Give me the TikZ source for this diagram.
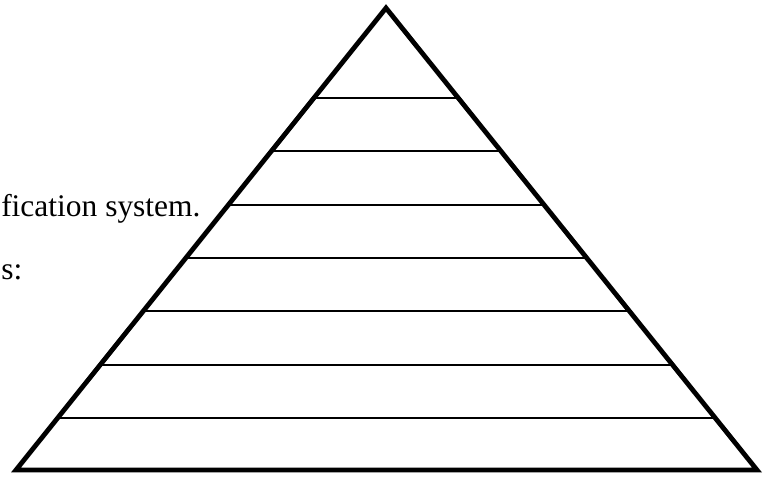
\documentclass[tikz,border=0pt]{standalone}
\usepackage{fontspec}
\setmainfont{Liberation Serif}
\usetikzlibrary{calc}

\begin{document}
\begin{tikzpicture}[x=0.75pt,y=-0.75pt,
    txt/.style={inner sep=0pt,font=\fontsize{23.6}{28}\selectfont},
    edgeline/.style={black,line width=3.6pt,line join=miter},
    rung/.style={black,line width=1.6pt}]
    \useasboundingbox (0,0) rectangle (775,477);

    \coordinate (top) at (386,8);
    \coordinate (bl) at (16,470);
    \coordinate (br) at (757,470);

    \node[txt,anchor=base west] (line1) at (1,217) {fication system.};
    \node[txt,anchor=base west] (line2) at (1,280) {s:};

    \foreach \k in {0,...,6}{
      \pgfmathsetmacro{\t}{0.1948+0.11544*\k}
      \coordinate (l\k) at ($(top)!\t!(bl)$);
      \coordinate (r\k) at ($(top)!\t!(br)$);
      \draw[rung] (l\k) -- (r\k);
    }

    \draw[edgeline] (top) -- (br) -- (bl) -- cycle;
  \end{tikzpicture}
\end{document}
